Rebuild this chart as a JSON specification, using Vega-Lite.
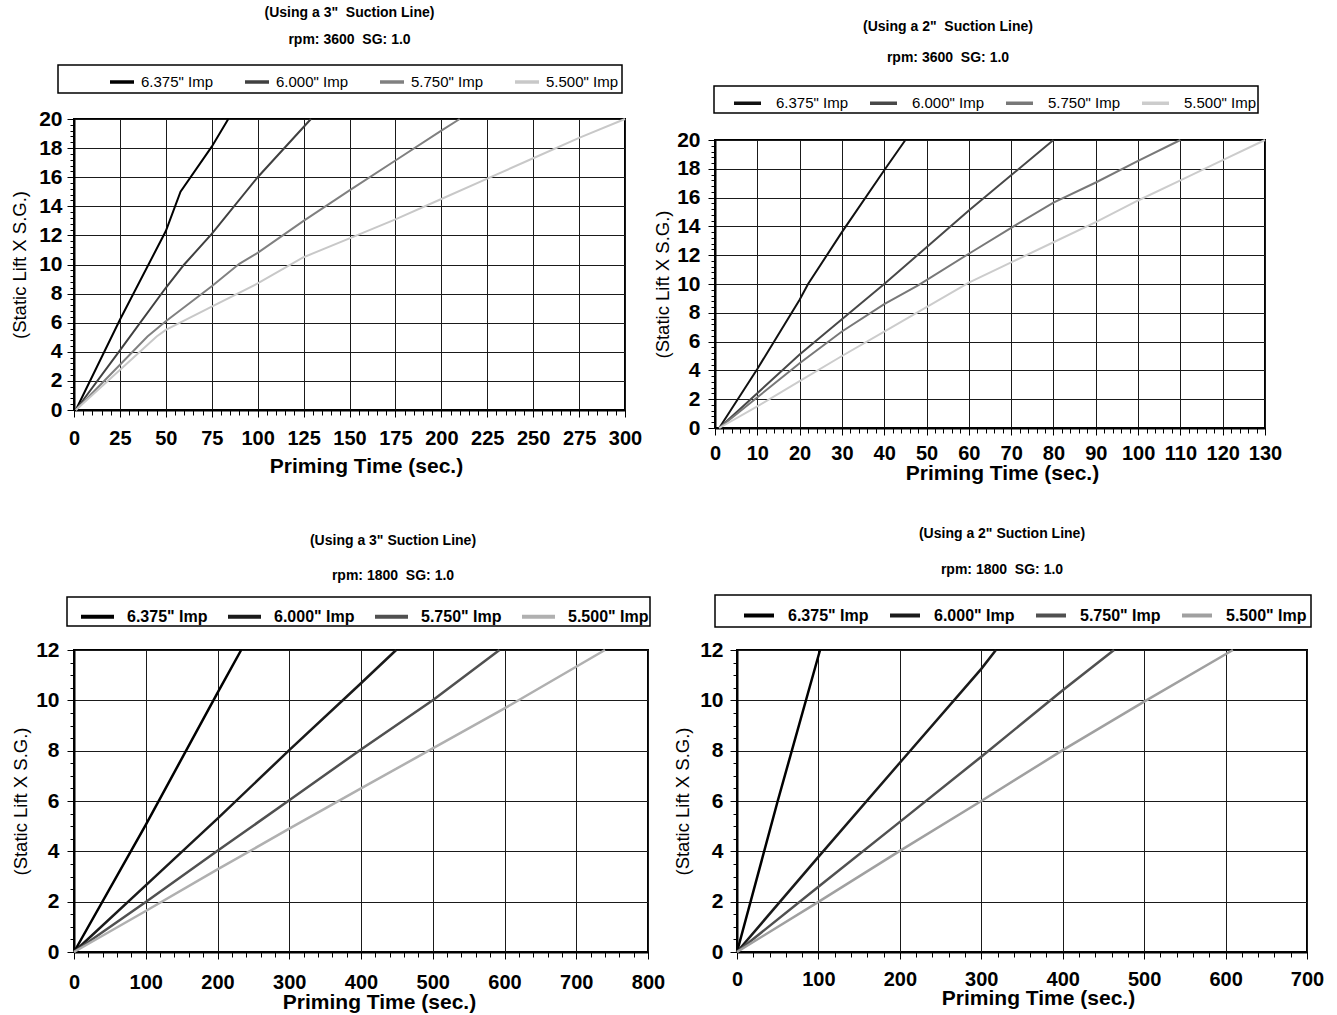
{
  "$schema": "https://vega.github.io/schema/vega-lite/v6.json",
  "background": "white",
  "padding": {"left": 9, "top": 3, "right": 0, "bottom": 0},
  "datasets": {
    "tl": [
      {"imp": "6.375\" Imp", "t": 1, "lift": 0}, {"imp": "6.375\" Imp", "t": 25, "lift": 6.2}, {"imp": "6.375\" Imp", "t": 50, "lift": 12.3}, {"imp": "6.375\" Imp", "t": 58, "lift": 15}, {"imp": "6.375\" Imp", "t": 75, "lift": 18.1}, {"imp": "6.375\" Imp", "t": 84, "lift": 20},
      {"imp": "6.000\" Imp", "t": 1, "lift": 0}, {"imp": "6.000\" Imp", "t": 25, "lift": 4.1}, {"imp": "6.000\" Imp", "t": 50, "lift": 8.4}, {"imp": "6.000\" Imp", "t": 60, "lift": 10}, {"imp": "6.000\" Imp", "t": 75, "lift": 12.1}, {"imp": "6.000\" Imp", "t": 100, "lift": 16}, {"imp": "6.000\" Imp", "t": 129, "lift": 20},
      {"imp": "5.750\" Imp", "t": 1, "lift": 0}, {"imp": "5.750\" Imp", "t": 40, "lift": 5.05}, {"imp": "5.750\" Imp", "t": 50, "lift": 6.1}, {"imp": "5.750\" Imp", "t": 75, "lift": 8.5}, {"imp": "5.750\" Imp", "t": 90, "lift": 10.05}, {"imp": "5.750\" Imp", "t": 100, "lift": 10.8}, {"imp": "5.750\" Imp", "t": 125, "lift": 13}, {"imp": "5.750\" Imp", "t": 150, "lift": 15.1}, {"imp": "5.750\" Imp", "t": 175, "lift": 17.15}, {"imp": "5.750\" Imp", "t": 200, "lift": 19.2}, {"imp": "5.750\" Imp", "t": 210, "lift": 20},
      {"imp": "5.500\" Imp", "t": 1, "lift": 0}, {"imp": "5.500\" Imp", "t": 45, "lift": 5.05}, {"imp": "5.500\" Imp", "t": 50, "lift": 5.5}, {"imp": "5.500\" Imp", "t": 75, "lift": 7.1}, {"imp": "5.500\" Imp", "t": 100, "lift": 8.7}, {"imp": "5.500\" Imp", "t": 125, "lift": 10.5}, {"imp": "5.500\" Imp", "t": 150, "lift": 11.8}, {"imp": "5.500\" Imp", "t": 175, "lift": 13.1}, {"imp": "5.500\" Imp", "t": 200, "lift": 14.5}, {"imp": "5.500\" Imp", "t": 225, "lift": 15.9}, {"imp": "5.500\" Imp", "t": 250, "lift": 17.3}, {"imp": "5.500\" Imp", "t": 275, "lift": 18.7}, {"imp": "5.500\" Imp", "t": 300, "lift": 20}
    ],
    "tr": [
      {"imp": "6.375\" Imp", "t": 1, "lift": 0}, {"imp": "6.375\" Imp", "t": 10, "lift": 4.1}, {"imp": "6.375\" Imp", "t": 20, "lift": 8.9}, {"imp": "6.375\" Imp", "t": 22, "lift": 10}, {"imp": "6.375\" Imp", "t": 30, "lift": 13.6}, {"imp": "6.375\" Imp", "t": 40, "lift": 17.9}, {"imp": "6.375\" Imp", "t": 45, "lift": 20},
      {"imp": "6.000\" Imp", "t": 1, "lift": 0}, {"imp": "6.000\" Imp", "t": 20, "lift": 5.1}, {"imp": "6.000\" Imp", "t": 40, "lift": 10}, {"imp": "6.000\" Imp", "t": 60, "lift": 15.1}, {"imp": "6.000\" Imp", "t": 80, "lift": 20},
      {"imp": "5.750\" Imp", "t": 1, "lift": 0}, {"imp": "5.750\" Imp", "t": 20, "lift": 4.5}, {"imp": "5.750\" Imp", "t": 30, "lift": 6.7}, {"imp": "5.750\" Imp", "t": 40, "lift": 8.6}, {"imp": "5.750\" Imp", "t": 48, "lift": 9.9}, {"imp": "5.750\" Imp", "t": 60, "lift": 12.1}, {"imp": "5.750\" Imp", "t": 70, "lift": 13.9}, {"imp": "5.750\" Imp", "t": 80, "lift": 15.65}, {"imp": "5.750\" Imp", "t": 90, "lift": 17.05}, {"imp": "5.750\" Imp", "t": 100, "lift": 18.55}, {"imp": "5.750\" Imp", "t": 110, "lift": 20},
      {"imp": "5.500\" Imp", "t": 1, "lift": 0}, {"imp": "5.500\" Imp", "t": 10, "lift": 1.5}, {"imp": "5.500\" Imp", "t": 20, "lift": 3.25}, {"imp": "5.500\" Imp", "t": 30, "lift": 5}, {"imp": "5.500\" Imp", "t": 40, "lift": 6.7}, {"imp": "5.500\" Imp", "t": 50, "lift": 8.4}, {"imp": "5.500\" Imp", "t": 60, "lift": 10.1}, {"imp": "5.500\" Imp", "t": 70, "lift": 11.5}, {"imp": "5.500\" Imp", "t": 80, "lift": 12.9}, {"imp": "5.500\" Imp", "t": 90, "lift": 14.3}, {"imp": "5.500\" Imp", "t": 100, "lift": 15.8}, {"imp": "5.500\" Imp", "t": 110, "lift": 17.2}, {"imp": "5.500\" Imp", "t": 120, "lift": 18.6}, {"imp": "5.500\" Imp", "t": 130, "lift": 20}
    ],
    "bl": [
      {"imp": "6.375\" Imp", "t": 0, "lift": 0}, {"imp": "6.375\" Imp", "t": 100, "lift": 5.05}, {"imp": "6.375\" Imp", "t": 200, "lift": 10.3}, {"imp": "6.375\" Imp", "t": 233, "lift": 12},
      {"imp": "6.000\" Imp", "t": 0, "lift": 0}, {"imp": "6.000\" Imp", "t": 100, "lift": 2.65}, {"imp": "6.000\" Imp", "t": 200, "lift": 5.3}, {"imp": "6.000\" Imp", "t": 300, "lift": 8.02}, {"imp": "6.000\" Imp", "t": 400, "lift": 10.68}, {"imp": "6.000\" Imp", "t": 449, "lift": 12},
      {"imp": "5.750\" Imp", "t": 0, "lift": 0}, {"imp": "5.750\" Imp", "t": 100, "lift": 1.99}, {"imp": "5.750\" Imp", "t": 200, "lift": 4.02}, {"imp": "5.750\" Imp", "t": 300, "lift": 6.03}, {"imp": "5.750\" Imp", "t": 400, "lift": 8.05}, {"imp": "5.750\" Imp", "t": 500, "lift": 10}, {"imp": "5.750\" Imp", "t": 593, "lift": 12},
      {"imp": "5.500\" Imp", "t": 0, "lift": 0}, {"imp": "5.500\" Imp", "t": 100, "lift": 1.63}, {"imp": "5.500\" Imp", "t": 200, "lift": 3.28}, {"imp": "5.500\" Imp", "t": 300, "lift": 4.9}, {"imp": "5.500\" Imp", "t": 400, "lift": 6.5}, {"imp": "5.500\" Imp", "t": 500, "lift": 8.09}, {"imp": "5.500\" Imp", "t": 600, "lift": 9.68}, {"imp": "5.500\" Imp", "t": 740, "lift": 12}
    ],
    "br": [
      {"imp": "6.375\" Imp", "t": 0, "lift": 0}, {"imp": "6.375\" Imp", "t": 50, "lift": 6}, {"imp": "6.375\" Imp", "t": 102, "lift": 12},
      {"imp": "6.000\" Imp", "t": 0, "lift": 0}, {"imp": "6.000\" Imp", "t": 100, "lift": 3.78}, {"imp": "6.000\" Imp", "t": 200, "lift": 7.52}, {"imp": "6.000\" Imp", "t": 300, "lift": 11.25}, {"imp": "6.000\" Imp", "t": 318, "lift": 12},
      {"imp": "5.750\" Imp", "t": 0, "lift": 0}, {"imp": "5.750\" Imp", "t": 100, "lift": 2.59}, {"imp": "5.750\" Imp", "t": 200, "lift": 5.17}, {"imp": "5.750\" Imp", "t": 300, "lift": 7.76}, {"imp": "5.750\" Imp", "t": 400, "lift": 10.4}, {"imp": "5.750\" Imp", "t": 463, "lift": 12},
      {"imp": "5.500\" Imp", "t": 0, "lift": 0}, {"imp": "5.500\" Imp", "t": 100, "lift": 1.99}, {"imp": "5.500\" Imp", "t": 200, "lift": 4.02}, {"imp": "5.500\" Imp", "t": 300, "lift": 6}, {"imp": "5.500\" Imp", "t": 400, "lift": 8.02}, {"imp": "5.500\" Imp", "t": 500, "lift": 9.95}, {"imp": "5.500\" Imp", "t": 609, "lift": 12}
    ]
  },
  "vconcat": [
    {
      "hconcat": [
        {
          "vconcat": [
            {"width": 1, "height": 1, "data": {"values": [{"k": 0}]}, "mark": {"type": "point", "size": 0, "opacity": 0}, "view": {"stroke": null}},
            {
              "width": 551, "height": 291,
              "data": {"name": "tl"},
              "title": {"text": "(Using a 3\" \u00a0Suction Line)", "subtitle": "rpm: 3600 \u00a0SG: 1.0", "anchor": "middle", "frame": "group", "offset": 17.6, "subtitlePadding": 13, "fontSize": 14, "subtitleFontSize": 14, "dx": 0},
              "mark": {"type": "line", "strokeWidth": 2},
              "encoding": {
                "x": {"field": "t", "type": "quantitative", "scale": {"domain": [0, 300], "nice": false},
                  "axis": {"title": "Priming Time (sec.)", "values": [0,5,10,15,20,25,30,35,40,45,50,55,60,65,70,75,80,85,90,95,100,105,110,115,120,125,130,135,140,145,150,155,160,165,170,175,180,185,190,195,200,205,210,215,220,225,230,235,240,245,250,255,260,265,270,275,280,285,290,295,300],
                    "labelExpr": "datum.value % 25 === 0 ? datum.value + '' : ''",
                    "gridOpacity": {"condition": {"test": "datum.value % 25 !== 0", "value": 0}, "value": 1},
                    "tickSize": {"condition": {"test": "datum.value % 25 === 0", "value": 7}, "value": 5},
                    "labelFontSize": 20, "labelBaseline": "middle", "labelPadding": 21,
                    "titleFontSize": 21, "titleFontWeight": "bold", "titleX": 292, "titleY": 56, "titleBaseline": "middle", "titleAlign": "center"}},
                "y": {"field": "lift", "type": "quantitative", "scale": {"domain": [0, 20], "nice": false},
                  "axis": {"title": "(Static Lift X S.G.)", "values": [0,0.4,0.8,1.2,1.6,2,2.4,2.8,3.2,3.6,4,4.4,4.8,5.2,5.6,6,6.4,6.8,7.2,7.6,8,8.4,8.8,9.2,9.6,10,10.4,10.8,11.2,11.6,12,12.4,12.8,13.2,13.6,14,14.4,14.8,15.2,15.6,16,16.4,16.8,17.2,17.6,18,18.4,18.8,19.2,19.6,20],
                    "labelExpr": "datum.value % 2 === 0 ? datum.value + '' : ''",
                    "gridOpacity": {"condition": {"test": "datum.value % 2 !== 0", "value": 0}, "value": 1},
                    "tickSize": {"condition": {"test": "datum.value % 2 === 0", "value": 7}, "value": 4},
                    "labelFontSize": 21, "labelPadding": 5,
                    "titleFontSize": 18.5, "titleFontWeight": "normal", "titleX": -55, "titleY": 145.5, "titleAngle": -90, "titleAlign": "center", "titleBaseline": "middle"}},
                "color": {"field": "imp", "type": "nominal",
                  "scale": {"domain": ["6.375\" Imp", "6.000\" Imp", "5.750\" Imp", "5.500\" Imp"], "range": ["#000000", "#404040", "#808080", "#c8c8c8"]},
                  "legend": {"orient": "none", "legendX": -16, "legendY": -54, "direction": "horizontal", "title": " ", "titleOrient": "left", "titlePadding": 47, "padding": 3, "columnPadding": 24, "symbolSize": 576, "symbolStrokeWidth": 3.5, "labelFontSize": 15, "labelFontWeight": "normal", "labelOffset": 5}}
              }
            }
          ],
          "spacing": 0,
          "resolve": {"scale": {"color": "independent"}, "legend": {"color": "independent"}}
        },
        {
          "vconcat": [
            {"width": 1, "height": 15, "data": {"values": [{"k": 0}]}, "mark": {"type": "point", "size": 0, "opacity": 0}, "view": {"stroke": null}},
            {
              "width": 550, "height": 288,
              "data": {"name": "tr"},
              "title": {"text": "(Using a 2\" \u00a0Suction Line)", "subtitle": "rpm: 3600 \u00a0SG: 1.0", "anchor": "middle", "frame": "group", "offset": 20.6, "subtitlePadding": 17, "fontSize": 14, "subtitleFontSize": 14, "dx": -42},
              "mark": {"type": "line", "strokeWidth": 2},
              "encoding": {
                "x": {"field": "t", "type": "quantitative", "scale": {"domain": [0, 130], "nice": false},
                  "axis": {"title": "Priming Time (sec.)", "values": [0,2,4,6,8,10,12,14,16,18,20,22,24,26,28,30,32,34,36,38,40,42,44,46,48,50,52,54,56,58,60,62,64,66,68,70,72,74,76,78,80,82,84,86,88,90,92,94,96,98,100,102,104,106,108,110,112,114,116,118,120,122,124,126,128,130],
                    "labelExpr": "datum.value % 10 === 0 ? datum.value + '' : ''",
                    "gridOpacity": {"condition": {"test": "datum.value % 10 !== 0", "value": 0}, "value": 1},
                    "tickSize": {"condition": {"test": "datum.value % 10 === 0", "value": 7}, "value": 5},
                    "labelFontSize": 20, "labelBaseline": "middle", "labelPadding": 18,
                    "titleFontSize": 21, "titleFontWeight": "bold", "titleX": 287, "titleY": 45, "titleBaseline": "middle", "titleAlign": "center"}},
                "y": {"field": "lift", "type": "quantitative", "scale": {"domain": [0, 20], "nice": false},
                  "axis": {"title": "(Static Lift X S.G.)", "values": [0,0.4,0.8,1.2,1.6,2,2.4,2.8,3.2,3.6,4,4.4,4.8,5.2,5.6,6,6.4,6.8,7.2,7.6,8,8.4,8.8,9.2,9.6,10,10.4,10.8,11.2,11.6,12,12.4,12.8,13.2,13.6,14,14.4,14.8,15.2,15.6,16,16.4,16.8,17.2,17.6,18,18.4,18.8,19.2,19.6,20],
                    "labelExpr": "datum.value % 2 === 0 ? datum.value + '' : ''",
                    "gridOpacity": {"condition": {"test": "datum.value % 2 !== 0", "value": 0}, "value": 1},
                    "tickSize": {"condition": {"test": "datum.value % 2 === 0", "value": 7}, "value": 4},
                    "labelFontSize": 21, "labelPadding": 8,
                    "titleFontSize": 18.5, "titleFontWeight": "normal", "titleX": -53, "titleY": 144, "titleAngle": -90, "titleAlign": "center", "titleBaseline": "middle"}},
                "color": {"field": "imp", "type": "nominal",
                  "scale": {"domain": ["6.375\" Imp", "6.000\" Imp", "5.750\" Imp", "5.500\" Imp"], "range": ["#111111", "#484848", "#787878", "#cccccc"]},
                  "legend": {"orient": "none", "legendX": -1, "legendY": -54, "direction": "horizontal", "title": " ", "titleOrient": "left", "titlePadding": 16.5, "padding": 1.5, "columnPadding": 14, "symbolSize": 729, "symbolStrokeWidth": 3.5, "labelFontSize": 15, "labelFontWeight": "normal", "labelOffset": 13}}
              }
            }
          ],
          "spacing": 0,
          "resolve": {"scale": {"color": "independent"}, "legend": {"color": "independent"}}
        }
      ],
      "spacing": 9,
      "resolve": {"scale": {"color": "independent"}, "legend": {"color": "independent"}}
    },
    {
      "hconcat": [
        {
          "width": 574, "height": 302,
          "data": {"name": "bl"},
          "title": {"text": "(Using a 3\" Suction Line)", "subtitle": "rpm: 1800 \u00a0SG: 1.0", "anchor": "middle", "frame": "group", "offset": 13.6, "subtitlePadding": 21, "fontSize": 14, "subtitleFontSize": 14, "dx": 32},
          "mark": {"type": "line", "strokeWidth": 2.5},
          "encoding": {
            "x": {"field": "t", "type": "quantitative", "scale": {"domain": [0, 800], "nice": false},
              "axis": {"title": "Priming Time (sec.)", "values": [0,20,40,60,80,100,120,140,160,180,200,220,240,260,280,300,320,340,360,380,400,420,440,460,480,500,520,540,560,580,600,620,640,660,680,700,720,740,760,780,800],
                "labelExpr": "datum.value % 100 === 0 ? datum.value + '' : ''",
                "gridOpacity": {"condition": {"test": "datum.value % 100 !== 0", "value": 0}, "value": 1},
                "tickSize": {"condition": {"test": "datum.value % 100 === 0", "value": 7}, "value": 5},
                "labelFontSize": 20, "labelBaseline": "middle", "labelPadding": 23,
                "titleFontSize": 21, "titleFontWeight": "bold", "titleX": 305, "titleY": 50, "titleBaseline": "middle", "titleAlign": "center"}},
            "y": {"field": "lift", "type": "quantitative", "scale": {"domain": [0, 12], "nice": false},
              "axis": {"title": "(Static Lift X S.G.)", "values": [0,0.5,1,1.5,2,2.5,3,3.5,4,4.5,5,5.5,6,6.5,7,7.5,8,8.5,9,9.5,10,10.5,11,11.5,12],
                "labelExpr": "datum.value % 2 === 0 ? datum.value + '' : ''",
                "gridOpacity": {"condition": {"test": "datum.value % 2 !== 0", "value": 0}, "value": 1},
                "tickSize": {"condition": {"test": "datum.value % 2 === 0", "value": 7}, "value": 4},
                "labelFontSize": 21, "labelPadding": 8,
                "titleFontSize": 18.5, "titleFontWeight": "normal", "titleX": -54, "titleY": 151, "titleAngle": -90, "titleAlign": "center", "titleBaseline": "middle"}},
            "color": {"field": "imp", "type": "nominal",
              "scale": {"domain": ["6.375\" Imp", "6.000\" Imp", "5.750\" Imp", "5.500\" Imp"], "range": ["#000000", "#1a1a1a", "#505050", "#b0b0b0"]},
              "legend": {"orient": "none", "legendX": -7, "legendY": -53, "direction": "horizontal", "title": " ", "titleOrient": "left", "titlePadding": 11, "padding": 1, "columnPadding": 12, "symbolSize": 1089, "symbolStrokeWidth": 4, "labelFontSize": 16, "labelFontWeight": "bold", "labelOffset": 11}}
          }
        },
        {
          "width": 570, "height": 302,
          "data": {"name": "br"},
          "title": {"text": "(Using a 2\" Suction Line)", "subtitle": "rpm: 1800 \u00a0SG: 1.0", "anchor": "middle", "frame": "group", "offset": 17.6, "subtitlePadding": 22, "fontSize": 14, "subtitleFontSize": 14, "dx": -20},
          "mark": {"type": "line", "strokeWidth": 2.5},
          "encoding": {
            "x": {"field": "t", "type": "quantitative", "scale": {"domain": [0, 700], "nice": false},
              "axis": {"title": "Priming Time (sec.)", "values": [0,20,40,60,80,100,120,140,160,180,200,220,240,260,280,300,320,340,360,380,400,420,440,460,480,500,520,540,560,580,600,620,640,660,680,700],
                "labelExpr": "datum.value % 100 === 0 ? datum.value + '' : ''",
                "gridOpacity": {"condition": {"test": "datum.value % 100 !== 0", "value": 0}, "value": 1},
                "tickSize": {"condition": {"test": "datum.value % 100 === 0", "value": 7}, "value": 5},
                "labelFontSize": 20, "labelBaseline": "middle", "labelPadding": 20,
                "titleFontSize": 21, "titleFontWeight": "bold", "titleX": 301, "titleY": 46, "titleBaseline": "middle", "titleAlign": "center"}},
            "y": {"field": "lift", "type": "quantitative", "scale": {"domain": [0, 12], "nice": false},
              "axis": {"title": "(Static Lift X S.G.)", "values": [0,0.5,1,1.5,2,2.5,3,3.5,4,4.5,5,5.5,6,6.5,7,7.5,8,8.5,9,9.5,10,10.5,11,11.5,12],
                "labelExpr": "datum.value % 2 === 0 ? datum.value + '' : ''",
                "gridOpacity": {"condition": {"test": "datum.value % 2 !== 0", "value": 0}, "value": 1},
                "tickSize": {"condition": {"test": "datum.value % 2 === 0", "value": 7}, "value": 4},
                "labelFontSize": 21, "labelPadding": 7,
                "titleFontSize": 18.5, "titleFontWeight": "normal", "titleX": -55, "titleY": 151, "titleAngle": -90, "titleAlign": "center", "titleBaseline": "middle"}},
            "color": {"field": "imp", "type": "nominal",
              "scale": {"domain": ["6.375\" Imp", "6.000\" Imp", "5.750\" Imp", "5.500\" Imp"], "range": ["#000000", "#1a1a1a", "#505050", "#a0a0a0"]},
              "legend": {"orient": "none", "legendX": -22, "legendY": -55, "direction": "horizontal", "title": " ", "titleOrient": "left", "titlePadding": 23.5, "padding": 3.5, "columnPadding": 13, "symbolSize": 900, "symbolStrokeWidth": 4, "labelFontSize": 16, "labelFontWeight": "bold", "labelOffset": 12}}
          }
        }
      ],
      "spacing": 6,
      "resolve": {"scale": {"color": "independent"}, "legend": {"color": "independent"}}
    }
  ],
  "spacing": 41,
  "resolve": {"scale": {"color": "independent"}, "legend": {"color": "independent"}},
  "config": {
    "font": "Liberation Sans",
    "view": {"stroke": "#000000", "strokeWidth": 2},
    "axis": {"domainColor": "#000000", "domainWidth": 2, "tickColor": "#000000", "tickWidth": 1, "gridColor": "#1a1a1a", "gridWidth": 1, "labelColor": "#000000", "labelFont": "Liberation Sans", "labelFontWeight": "bold", "titleColor": "#000000", "titleFont": "Liberation Sans", "labelOverlap": false, "labelFlush": false},
    "title": {"font": "Liberation Sans", "fontWeight": "bold", "color": "#000000", "subtitleFont": "Liberation Sans", "subtitleFontWeight": "bold", "subtitleColor": "#000000"},
    "legend": {"labelFont": "Liberation Sans", "labelColor": "#000000", "strokeColor": "#000000", "strokeWidth": 1.5, "symbolType": "stroke", "titleFontSize": 11}
  }
}
